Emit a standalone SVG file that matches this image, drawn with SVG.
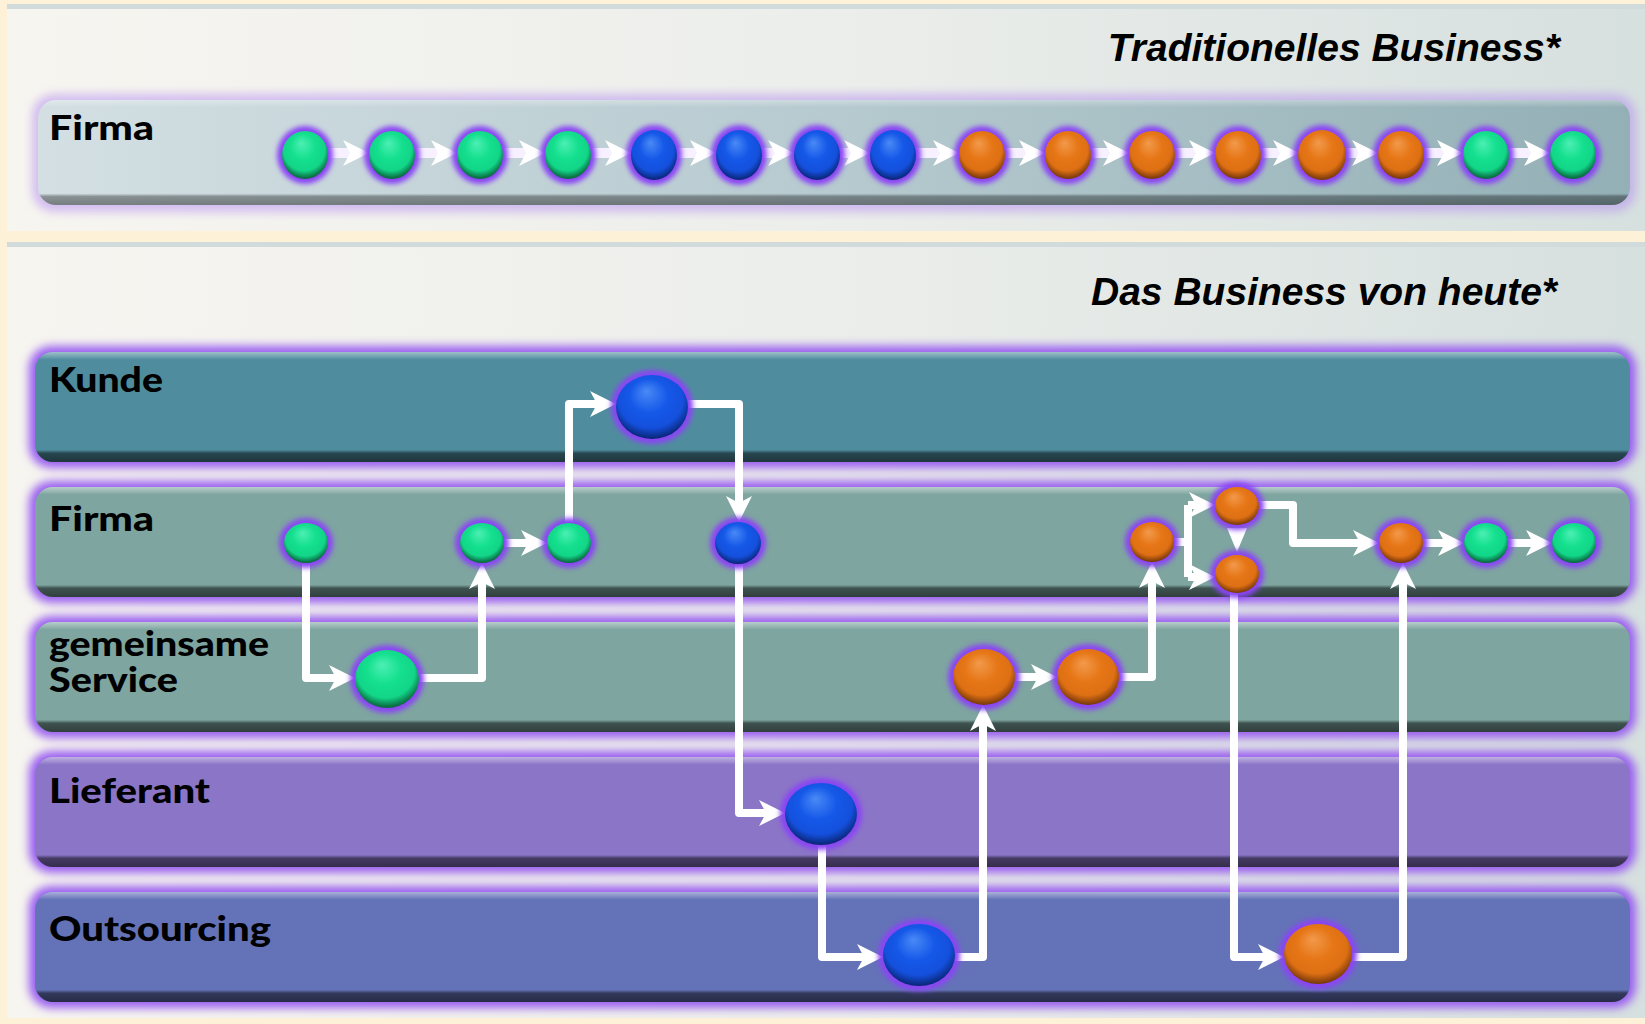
<svg xmlns="http://www.w3.org/2000/svg" width="1645" height="1024" viewBox="0 0 1645 1024">
<style>
.lbl{font-family:Lato,"Liberation Sans",sans-serif;font-weight:900;font-size:34px;fill:#000}
.title{font-family:"Liberation Sans",Arial,sans-serif;font-weight:bold;font-style:italic;font-size:39px;fill:#000}
.lglow{fill:#9a5ef0;filter:url(#blur5)}
.nglow{fill:#8a45f4;filter:url(#blur2)}
.shade{fill:url(#shade)}
.g{fill:url(#gGreen)}
.b{fill:url(#gBlue)}
.o{fill:url(#gOrange)}
.con{fill:none;stroke:#fff;stroke-width:8;stroke-linejoin:round;marker-end:url(#ah)}
.con2{fill:none;stroke:#fff;stroke-width:8;stroke-linejoin:round}
.top{fill:none;stroke:#f6f0ff;stroke-width:10;marker-end:url(#ah)}
</style>
<defs>
<filter id="blur5" x="-5%" y="-30%" width="110%" height="160%"><feGaussianBlur stdDeviation="5"/></filter>
<filter id="blur2" x="-30%" y="-30%" width="160%" height="160%"><feGaussianBlur stdDeviation="2.5"/></filter>
<marker id="ah" viewBox="0 0 26 26" refX="7" refY="13" markerWidth="26" markerHeight="26" markerUnits="userSpaceOnUse" orient="auto">
<path d="M0,0 L26,13 L0,26 L7,13 Z" fill="#fff"/>
</marker>
<linearGradient id="panel" x1="0" y1="0" x2="1" y2="0">
<stop offset="0" stop-color="#f7f5f0"/><stop offset="0.5" stop-color="#eceeeb"/><stop offset="1" stop-color="#d6e0df"/>
</linearGradient>
<linearGradient id="topRow" x1="0" y1="0" x2="1" y2="0">
<stop offset="0" stop-color="#d3dfe3"/><stop offset="0.5" stop-color="#b6cacf"/><stop offset="1" stop-color="#93b0b6"/>
</linearGradient>
<linearGradient id="shade" x1="0" y1="0" x2="0" y2="1">
<stop offset="0" stop-color="#fff" stop-opacity="0.45"/>
<stop offset="0.04" stop-color="#fff" stop-opacity="0.2"/>
<stop offset="0.07" stop-color="#fff" stop-opacity="0"/>
<stop offset="0.89" stop-color="#000" stop-opacity="0"/>
<stop offset="0.92" stop-color="#000" stop-opacity="0.5"/>
<stop offset="1" stop-color="#000" stop-opacity="0.62"/>
</linearGradient>
<radialGradient id="gGreen" cx="0.5" cy="0.42" r="0.6" fx="0.42" fy="0.25">
<stop offset="0" stop-color="#4cefb4"/><stop offset="0.45" stop-color="#14e08e"/><stop offset="0.75" stop-color="#12d588"/><stop offset="0.92" stop-color="#0b7a4c"/><stop offset="1" stop-color="#0a5a38"/>
</radialGradient>
<radialGradient id="gBlue" cx="0.5" cy="0.42" r="0.6" fx="0.42" fy="0.25">
<stop offset="0" stop-color="#4a8af6"/><stop offset="0.45" stop-color="#1558e8"/><stop offset="0.75" stop-color="#1450dc"/><stop offset="0.92" stop-color="#0c2f8e"/><stop offset="1" stop-color="#081f66"/>
</radialGradient>
<radialGradient id="gOrange" cx="0.5" cy="0.42" r="0.6" fx="0.42" fy="0.25">
<stop offset="0" stop-color="#f29a4c"/><stop offset="0.45" stop-color="#e67616"/><stop offset="0.75" stop-color="#de7014"/><stop offset="0.92" stop-color="#8e440c"/><stop offset="1" stop-color="#66300a"/>
</radialGradient>
</defs>

<rect x="0" y="0" width="1645" height="1024" fill="#fdf2d8"/>

<g id="panel-top">
<rect x="7" y="4" width="1638" height="227" fill="url(#panel)"/>
<rect x="7" y="4" width="1638" height="5" fill="#d2dbdb"/>
<text class="title" x="1560" y="61" text-anchor="end">Traditionelles Business*</text>
</g>

<g id="panel-bottom">
<rect x="7" y="242" width="1638" height="776" fill="url(#panel)"/>
<rect x="7" y="242" width="1638" height="5" fill="#d2dbdb"/>
<text class="title" x="1557" y="305" text-anchor="end">Das Business von heute*</text>
</g>

<g id="row-firma-top">
<rect x="32" y="94" width="1604" height="118" rx="22" fill="#b690f0" opacity="0.55" filter="url(#blur5)"/>
<rect x="38" y="100" width="1592" height="105" rx="18" fill="url(#topRow)"/>
<rect x="38" y="100" width="1592" height="105" rx="18" class="shade" opacity="0.7"/>
<text class="lbl" x="49" y="140" textLength="105" lengthAdjust="spacingAndGlyphs">Firma</text>
</g>

<g id="lane-kunde">
<rect class="lglow" x="29" y="346" width="1607" height="122" rx="22"/>
<rect x="35" y="352" width="1595" height="110" rx="18" fill="#4f8d9e"/>
<rect x="35" y="352" width="1595" height="110" rx="18" class="shade"/>
<text class="lbl" x="49" y="392" textLength="114" lengthAdjust="spacingAndGlyphs">Kunde</text>
</g>
<g id="lane-firma">
<rect class="lglow" x="29" y="481" width="1607" height="122" rx="22"/>
<rect x="35" y="487" width="1595" height="110" rx="18" fill="#7ea5a0"/>
<rect x="35" y="487" width="1595" height="110" rx="18" class="shade"/>
<text class="lbl" x="49" y="531" textLength="105" lengthAdjust="spacingAndGlyphs">Firma</text>
</g>
<g id="lane-service">
<rect class="lglow" x="29" y="616" width="1607" height="122" rx="22"/>
<rect x="35" y="622" width="1595" height="110" rx="18" fill="#7ea5a0"/>
<rect x="35" y="622" width="1595" height="110" rx="18" class="shade"/>
<text class="lbl" x="49" y="656" textLength="220" lengthAdjust="spacingAndGlyphs">gemeinsame</text>
<text class="lbl" x="49" y="692" textLength="129" lengthAdjust="spacingAndGlyphs">Service</text>
</g>
<g id="lane-lieferant">
<rect class="lglow" x="29" y="751" width="1607" height="122" rx="22"/>
<rect x="35" y="757" width="1595" height="110" rx="18" fill="#8b75c7"/>
<rect x="35" y="757" width="1595" height="110" rx="18" class="shade"/>
<text class="lbl" x="49" y="803" textLength="161" lengthAdjust="spacingAndGlyphs">Lieferant</text>
</g>
<g id="lane-outsourcing">
<rect class="lglow" x="29" y="886" width="1607" height="122" rx="22"/>
<rect x="35" y="892" width="1595" height="110" rx="18" fill="#6472b8"/>
<rect x="35" y="892" width="1595" height="110" rx="18" class="shade"/>
<text class="lbl" x="49" y="941" textLength="222" lengthAdjust="spacingAndGlyphs">Outsourcing</text>
</g>

<g id="connectors">
<path class="top" d="M328,153 H350"/>
<path class="top" d="M415,153 H438"/>
<path class="top" d="M503,153 H526"/>
<path class="top" d="M591,153 H612"/>
<path class="top" d="M677,153 H697"/>
<path class="top" d="M762,153 H775"/>
<path class="top" d="M840,153 H851"/>
<path class="top" d="M916,153 H940"/>
<path class="top" d="M1005,153 H1026"/>
<path class="top" d="M1091,153 H1110"/>
<path class="top" d="M1175,153 H1196"/>
<path class="top" d="M1261,153 H1280"/>
<path class="top" d="M1345,153 H1359"/>
<path class="top" d="M1424,153 H1444"/>
<path class="top" d="M1509,153 H1531"/>

<path class="con" d="M306,562 V678 H336"/>
<path class="con" d="M417,678 H482 V582"/>
<path class="con" d="M503,543 H528"/>
<path class="con" d="M569,522 V404 H597"/>
<path class="con" d="M686,404 H739 V503"/>
<path class="con" d="M739,562 V813 H766"/>
<path class="con" d="M822,843 V957 H864"/>
<path class="con" d="M953,957 H983 V724"/>
<path class="con" d="M1013,677 H1038"/>
<path class="con" d="M1117,677 H1152 V581"/>
<path class="con2" d="M1172,542 H1188"/>
<path class="con2" d="M1188,505 V577"/>
<path class="con" d="M1188,505 H1196"/>
<path class="con" d="M1188,577 H1196"/>
<path fill="#fff" d="M1227,528 L1247,528 L1237,552 Z"/>
<path class="con" d="M1257,505 H1293 V543 H1360"/>
<path class="con" d="M1421,543 H1445"/>
<path class="con" d="M1506,543 H1533"/>
<path class="con" d="M1234,592 V957 H1265"/>
<path class="con" d="M1350,957 H1403 V582"/>
</g>

<g id="top-nodes">
<g id="t1"><ellipse class="nglow" cx="305" cy="155" rx="28" ry="29"/><ellipse class="g" cx="305" cy="155" rx="23" ry="24"/></g>
<g id="t2"><ellipse class="nglow" cx="392" cy="155" rx="28" ry="29"/><ellipse class="g" cx="392" cy="155" rx="23" ry="24"/></g>
<g id="t3"><ellipse class="nglow" cx="480" cy="155" rx="28" ry="29"/><ellipse class="g" cx="480" cy="155" rx="23" ry="24"/></g>
<g id="t4"><ellipse class="nglow" cx="568" cy="155" rx="28" ry="29"/><ellipse class="g" cx="568" cy="155" rx="23" ry="24"/></g>
<g id="t5"><ellipse class="nglow" cx="654" cy="155" rx="28" ry="30"/><ellipse class="b" cx="654" cy="155" rx="23" ry="25"/></g>
<g id="t6"><ellipse class="nglow" cx="739" cy="155" rx="28" ry="30"/><ellipse class="b" cx="739" cy="155" rx="23" ry="25"/></g>
<g id="t7"><ellipse class="nglow" cx="817" cy="155" rx="28" ry="30"/><ellipse class="b" cx="817" cy="155" rx="23" ry="25"/></g>
<g id="t8"><ellipse class="nglow" cx="893" cy="155" rx="28" ry="30"/><ellipse class="b" cx="893" cy="155" rx="23" ry="25"/></g>
<g id="t9"><ellipse class="nglow" cx="982" cy="155" rx="28" ry="29"/><ellipse class="o" cx="982" cy="155" rx="23" ry="24"/></g>
<g id="t10"><ellipse class="nglow" cx="1068" cy="155" rx="28" ry="29"/><ellipse class="o" cx="1068" cy="155" rx="23" ry="24"/></g>
<g id="t11"><ellipse class="nglow" cx="1152" cy="155" rx="28" ry="29"/><ellipse class="o" cx="1152" cy="155" rx="23" ry="24"/></g>
<g id="t12"><ellipse class="nglow" cx="1238" cy="155" rx="28" ry="29"/><ellipse class="o" cx="1238" cy="155" rx="23" ry="24"/></g>
<g id="t13"><ellipse class="nglow" cx="1322" cy="155" rx="29" ry="30"/><ellipse class="o" cx="1322" cy="155" rx="24" ry="25"/></g>
<g id="t14"><ellipse class="nglow" cx="1401" cy="155" rx="28" ry="29"/><ellipse class="o" cx="1401" cy="155" rx="23" ry="24"/></g>
<g id="t15"><ellipse class="nglow" cx="1486" cy="155" rx="28" ry="29"/><ellipse class="g" cx="1486" cy="155" rx="23" ry="24"/></g>
<g id="t16"><ellipse class="nglow" cx="1573" cy="155" rx="28" ry="29"/><ellipse class="g" cx="1573" cy="155" rx="23" ry="24"/></g>
</g>

<g id="bottom-nodes">
<g id="f-g1"><ellipse class="nglow" cx="306" cy="543" rx="27" ry="25"/><ellipse class="g" cx="306" cy="543" rx="22" ry="20"/></g>
<g id="f-g2"><ellipse class="nglow" cx="482" cy="543" rx="27" ry="25"/><ellipse class="g" cx="482" cy="543" rx="22" ry="20"/></g>
<g id="f-g3"><ellipse class="nglow" cx="569" cy="543" rx="27" ry="25"/><ellipse class="g" cx="569" cy="543" rx="22" ry="20"/></g>
<g id="f-b1"><ellipse class="nglow" cx="738" cy="543" rx="28" ry="26"/><ellipse class="b" cx="738" cy="543" rx="23" ry="21"/></g>
<g id="k-b"><ellipse class="nglow" cx="652" cy="407" rx="41" ry="37"/><ellipse class="b" cx="652" cy="407" rx="36" ry="32"/></g>
<g id="s-g"><ellipse class="nglow" cx="387" cy="679" rx="37" ry="34"/><ellipse class="g" cx="387" cy="679" rx="32" ry="29"/></g>
<g id="l-b"><ellipse class="nglow" cx="821" cy="814" rx="41" ry="36"/><ellipse class="b" cx="821" cy="814" rx="36" ry="31"/></g>
<g id="o-b"><ellipse class="nglow" cx="919" cy="955" rx="41" ry="36"/><ellipse class="b" cx="919" cy="955" rx="36" ry="31"/></g>
<g id="s-o1"><ellipse class="nglow" cx="984" cy="677" rx="36" ry="33"/><ellipse class="o" cx="984" cy="677" rx="31" ry="28"/></g>
<g id="s-o2"><ellipse class="nglow" cx="1088" cy="677" rx="36" ry="33"/><ellipse class="o" cx="1088" cy="677" rx="31" ry="28"/></g>
<g id="f-o1"><ellipse class="nglow" cx="1152" cy="542" rx="27" ry="25"/><ellipse class="o" cx="1152" cy="542" rx="22" ry="20"/></g>
<g id="f-o2"><ellipse class="nglow" cx="1237" cy="506" rx="27" ry="24"/><ellipse class="o" cx="1237" cy="506" rx="22" ry="19"/></g>
<g id="f-o3"><ellipse class="nglow" cx="1237" cy="574" rx="27" ry="24"/><ellipse class="o" cx="1237" cy="574" rx="22" ry="19"/></g>
<g id="f-o4"><ellipse class="nglow" cx="1401" cy="543" rx="27" ry="25"/><ellipse class="o" cx="1401" cy="543" rx="22" ry="20"/></g>
<g id="f-g4"><ellipse class="nglow" cx="1486" cy="543" rx="27" ry="25"/><ellipse class="g" cx="1486" cy="543" rx="22" ry="20"/></g>
<g id="f-g5"><ellipse class="nglow" cx="1574" cy="543" rx="27" ry="25"/><ellipse class="g" cx="1574" cy="543" rx="22" ry="20"/></g>
<g id="o-o"><ellipse class="nglow" cx="1318" cy="954" rx="39" ry="35"/><ellipse class="o" cx="1318" cy="954" rx="34" ry="30"/></g>
</g>
</svg>
